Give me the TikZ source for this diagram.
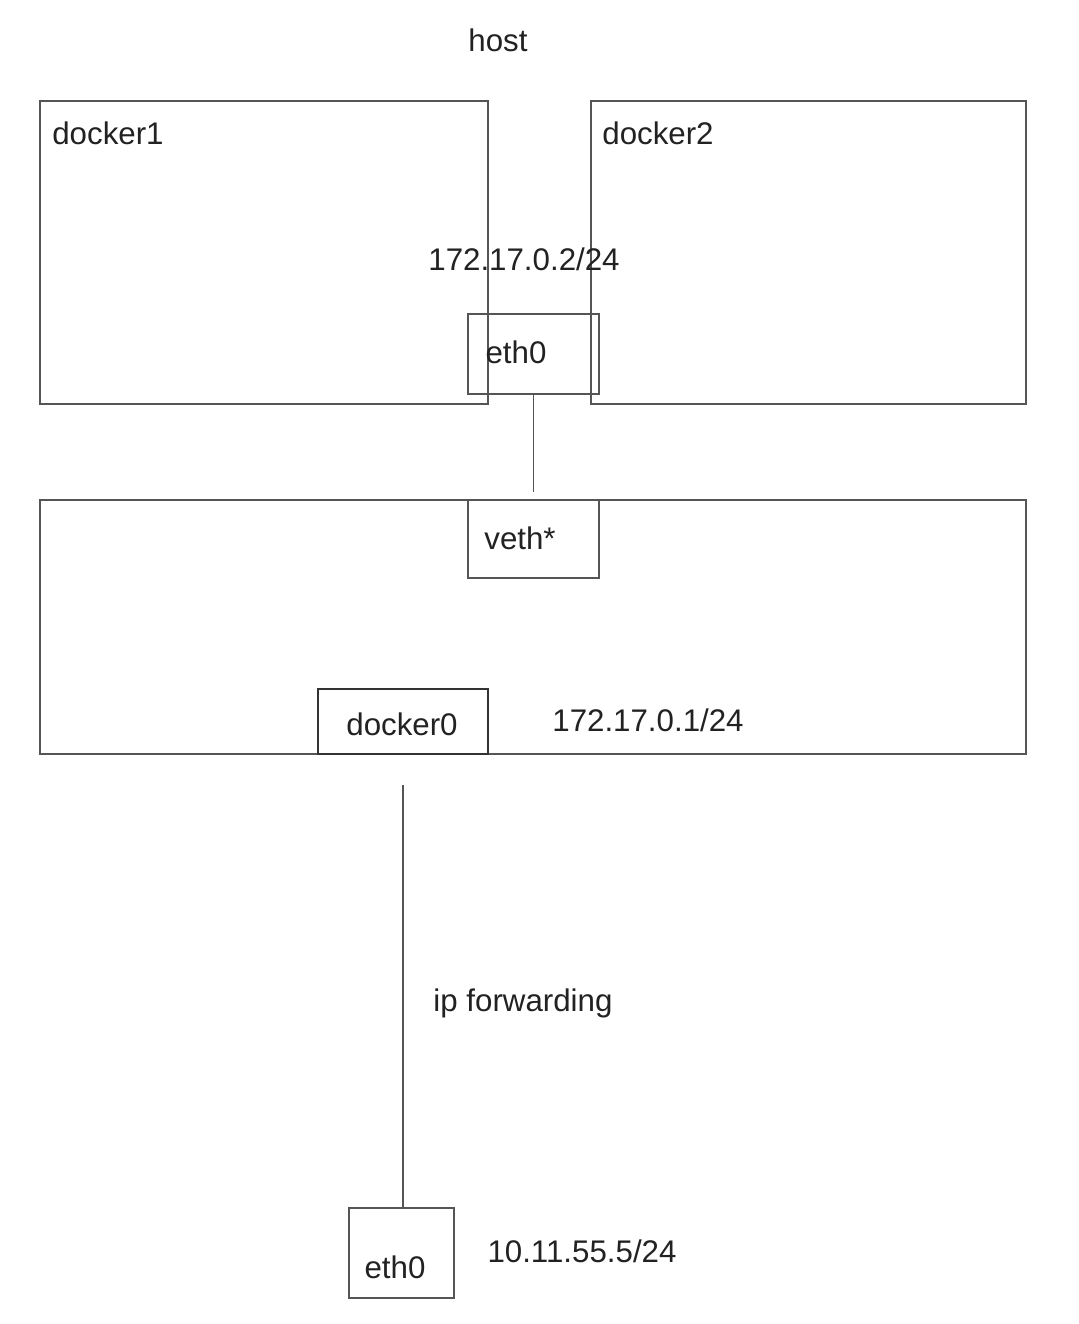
\documentclass[tikz,border=0pt]{standalone}
\usepackage{fontspec}
\setmainfont{Liberation Sans}
\usetikzlibrary{calc}
\definecolor{lineg}{HTML}{555555}
\definecolor{textg}{HTML}{222222}
\begin{document}
\begin{tikzpicture}[x=0.02cm,y=-0.02cm,
  box/.style={draw=lineg,line width=1.1pt,inner sep=0pt,outer sep=0pt},
  txt/.style={text=textg,inner sep=0pt,font=\fontsize{17.8pt}{20pt}\selectfont},
  conn/.style={draw=lineg,line width=1.1pt}]
\useasboundingbox (0,0) rectangle (1078,1324);
\fill[white] (0,0) rectangle (1078,1324);
% containers
\node[box,minimum width=8.96cm,minimum height=6.06cm] (docker1) at (264,252.5) {};
\node[box,minimum width=8.7cm,minimum height=6.06cm] (docker2) at (808.5,252.5) {};
\node[box,minimum width=19.72cm,minimum height=5.08cm] (bridge) at (533,627) {};
% interfaces
\node[box,minimum width=2.62cm,minimum height=1.6cm] (eth0) at (533.5,354) {};
\node[box,minimum width=2.62cm,minimum height=1.56cm] (veth) at (533.5,539) {};
\node[box,line width=1.4pt,draw=black!80,minimum width=3.4cm,minimum height=1.3cm] (docker0) at (403,721.5) {};
\node[box,minimum width=2.1cm,minimum height=1.8cm] (eth0b) at (401.5,1253) {};
% texts
\node[txt] (host) at (498,40) {host};
\node[txt,anchor=west] (d1lbl) at (52,133) {docker1};
\node[txt,anchor=west] (d2lbl) at (602,133) {docker2};
\node[txt] (ip2) at (524,259) {172.17.0.2/24};
\node[txt] (eth0lbl) at (516,352) {eth0};
\node[txt] (vethlbl) at (520,538) {veth*};
\node[txt] (d0lbl) at (402,724) {docker0};
\node[txt] (ip1) at (648,720) {172.17.0.1/24};
\node[txt] (ipfwd) at (523,1003) {ip forwarding};
\node[txt] (eth0blbl) at (395,1267) {eth0};
\node[txt] (ip3) at (582,1251) {10.11.55.5/24};
% connectors
\draw[conn] (eth0.south) -- ($(veth.north)+(0,-8)$);
\coordinate (fwdstart) at ($(docker0.south)+(0,31)$);
\draw[conn] (fwdstart) -- (fwdstart |- eth0b.north);
\end{tikzpicture}
\end{document}
